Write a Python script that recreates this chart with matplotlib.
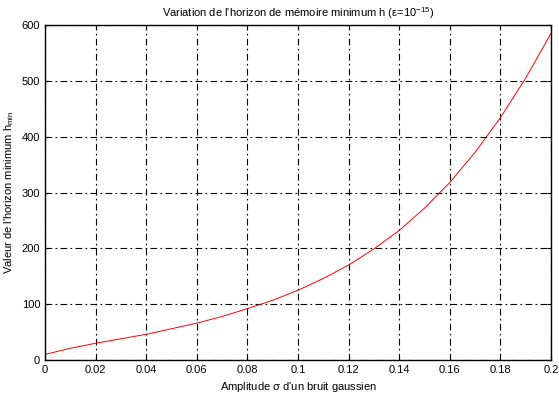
import matplotlib
matplotlib.use("Agg")
import matplotlib.pyplot as plt

# values
sigma = [0.0, 0.01, 0.02, 0.03, 0.04, 0.05, 0.06, 0.07, 0.08, 0.09, 0.10,
         0.11, 0.12, 0.13, 0.14, 0.15, 0.16, 0.17, 0.18, 0.19, 0.20]
h_min = [10, 21, 30, 38, 46, 56, 66, 78, 92, 107, 125,
         146, 170, 199, 232, 272, 318, 372, 434, 505, 585]
x_ticks = [0, 0.02, 0.04, 0.06, 0.08, 0.1, 0.12, 0.14, 0.16, 0.18, 0.2]
x_labels = ["0", "0.02", "0.04", "0.06", "0.08", "0.1", "0.12", "0.14", "0.16", "0.18", "0.2"]
y_ticks = [0, 100, 200, 300, 400, 500, 600]

plt.rcParams["font.family"] = ["Liberation Sans", "DejaVu Sans"]
plt.rcParams["mathtext.fontset"] = "custom"
plt.rcParams["mathtext.rm"] = "Liberation Sans"
plt.rcParams["mathtext.it"] = "Liberation Sans"

fig = plt.figure(figsize=(5.59, 3.95), dpi=100)
ax = fig.add_axes([0.0805, 0.0886, 0.9052, 0.8481])

ax.plot(sigma, h_min, color="red", linewidth=0.7)

ax.set_xlim(0, 0.2)
ax.set_ylim(0, 600)
ax.set_xticks(x_ticks)
ax.set_xticklabels(x_labels)
ax.set_yticks(y_ticks)
ax.tick_params(direction="in", top=True, right=True, labelsize=8, length=3)
ax.grid(True, color="black", linestyle=(0, (6, 3, 1.5, 3)), linewidth=0.8)
for s in ax.spines.values():
    s.set_linewidth(1.0)

ax.set_title(r"Variation de l'horizon de mémoire minimum h ($\varepsilon$=10$^{-15}$)", fontsize=8)
ax.set_xlabel(r"Amplitude $\sigma$ d'un bruit gaussien", fontsize=8)
ax.set_ylabel(r"Valeur de l'horizon minimum h$_{\rm min}$", fontsize=8, labelpad=4)

plt.savefig("out.png", dpi=100)
